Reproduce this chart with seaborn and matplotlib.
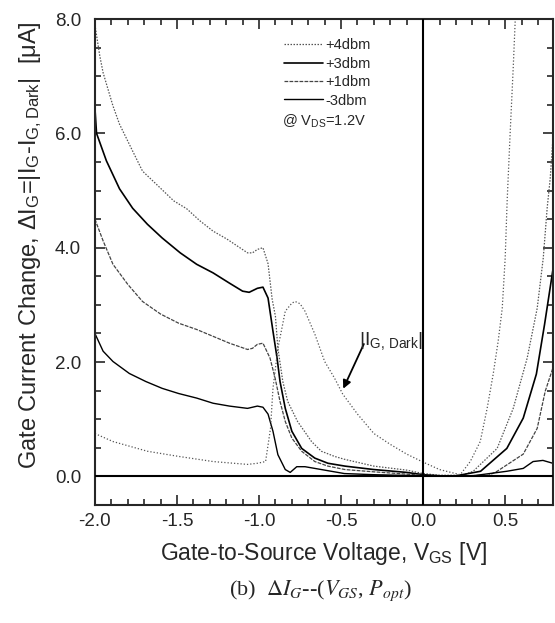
import numpy as np
import pandas as pd
import matplotlib
matplotlib.use("Agg")
import matplotlib.pyplot as plt
from matplotlib.ticker import MultipleLocator, FormatStrFormatter
import seaborn as sns

# ---------------- data ----------------
v_p4 = [-2.00, -1.97, -1.95, -1.89, -1.85, -1.77, -1.71, -1.60, -1.52, -1.44, -1.36, -1.28, -1.195,
        -1.07, -1.04, -1.01, -0.976, -0.945, -0.92, -0.90, -0.885, -0.855, -0.825, -0.765, -0.68,
        -0.62, -0.54, -0.48, -0.30, -0.10, 0.00, 0.10, 0.20, 0.25, 0.305, 0.451, 0.549, 0.634,
        0.695, 0.732, 0.756, 0.774, 0.79]
i_p4 = [7.90, 7.35, 7.06, 6.48, 6.16, 5.69, 5.34, 5.04, 4.82, 4.68, 4.47, 4.29, 4.15,
        3.91, 3.91, 3.97, 4.00, 3.72, 3.10, 2.80, 2.24, 1.66, 1.31, 0.96, 0.61,
        0.44, 0.35, 0.30, 0.18, 0.11, 0.05, 0.02, 0.02, 0.03, 0.09, 0.49, 1.19, 2.07,
        2.94, 3.82, 4.70, 5.20, 5.87]

v_p3 = [-2.00, -1.99, -1.93, -1.85, -1.77, -1.68, -1.59, -1.48, -1.38, -1.28, -1.18, -1.10, -1.06,
        -1.01, -0.976, -0.945, -0.915, -0.89, -0.872, -0.84, -0.80, -0.74, -0.66, -0.58, -0.476,
        -0.30, -0.10, 0.00, 0.10, 0.20, 0.35, 0.51, 0.61, 0.69, 0.74, 0.79]
i_p3 = [6.45, 6.00, 5.52, 5.03, 4.69, 4.41, 4.17, 3.91, 3.71, 3.56, 3.38, 3.24, 3.22,
        3.29, 3.31, 3.12, 2.54, 2.07, 1.66, 1.19, 0.79, 0.49, 0.32, 0.23, 0.18,
        0.12, 0.07, 0.03, 0.01, 0.01, 0.09, 0.49, 1.02, 1.79, 2.66, 3.60]

v_p1 = [-2.00, -1.95, -1.89, -1.80, -1.71, -1.60, -1.49, -1.38, -1.28, -1.18, -1.07, -1.04, -1.01,
        -0.976, -0.933, -0.902, -0.872, -0.84, -0.80, -0.74, -0.66, -0.58, -0.476, -0.30, -0.10,
        0.00, 0.20, 0.40, 0.451, 0.61, 0.695, 0.744, 0.79]
i_p1 = [4.50, 4.12, 3.71, 3.36, 3.06, 2.84, 2.68, 2.57, 2.45, 2.33, 2.22, 2.24, 2.31,
        2.33, 2.07, 1.72, 1.31, 0.96, 0.67, 0.44, 0.26, 0.18, 0.12, 0.08, 0.04,
        0.02, 0.01, 0.02, 0.09, 0.39, 0.84, 1.49, 1.89]

v_m3 = [-2.00, -1.95, -1.89, -1.79, -1.69, -1.59, -1.49, -1.38, -1.28, -1.18, -1.07, -1.01, -0.976,
        -0.945, -0.915, -0.885, -0.84, -0.81, -0.77, -0.72, -0.62, -0.48, -0.30, 0.00, 0.30,
        0.51, 0.61, 0.67, 0.73, 0.79]
i_m3 = [2.50, 2.19, 2.01, 1.80, 1.66, 1.54, 1.45, 1.37, 1.28, 1.23, 1.19, 1.23, 1.21,
        1.09, 0.79, 0.38, 0.12, 0.07, 0.17, 0.17, 0.12, 0.05, 0.03, 0.01, 0.01,
        0.09, 0.14, 0.26, 0.28, 0.23]

v_dark = [-2.00, -1.89, -1.68, -1.49, -1.28, -1.07, -1.01, -0.96, -0.93, -0.915, -0.885, -0.84,
          -0.80, -0.78, -0.75, -0.72, -0.66, -0.60, -0.54, -0.49, -0.40, -0.30, -0.20, -0.10,
          0.00, 0.10, 0.226, 0.287, 0.348, 0.39, 0.427, 0.457, 0.482, 0.50, 0.512, 0.53, 0.549,
          0.561]
i_dark = [0.75, 0.61, 0.44, 0.35, 0.26, 0.21, 0.23, 0.26, 0.84, 1.54, 2.24, 2.89,
          3.03, 3.06, 3.02, 2.89, 2.49, 2.01, 1.72, 1.44, 1.09, 0.75, 0.56, 0.39,
          0.25, 0.12, 0.03, 0.26, 0.61, 1.19, 1.79, 2.36, 2.94, 3.82, 4.82, 5.99, 7.15,
          7.97]

series_names = ["+4dbm", "+3dbm", "+1dbm", "-3dbm"]
x_ticks = [-2.0, -1.5, -1.0, -0.5, 0.0, 0.5]
y_ticks = [0.0, 2.0, 4.0, 6.0, 8.0]

# ---------------- style ----------------
sns.set_style("ticks")
plt.rcParams["font.family"] = ["Liberation Sans", "DejaVu Sans"]
plt.rcParams["mathtext.fontset"] = "custom"
plt.rcParams["mathtext.rm"] = "Liberation Sans"
plt.rcParams["mathtext.it"] = "Liberation Sans:italic"
plt.rcParams["mathtext.sf"] = "Liberation Sans"
plt.rcParams["axes.unicode_minus"] = False

fig = plt.figure(figsize=(5.55, 6.23), dpi=100)
ax = fig.add_axes([0.171, 0.1894, 0.825, 0.7801])

frames = []
for name, v, i in zip(series_names + ["dark"], [v_p4, v_p3, v_p1, v_m3, v_dark],
                      [i_p4, i_p3, i_p1, i_m3, i_dark]):
    frames.append(pd.DataFrame({"V": v, "I": i, "s": name}))
df = pd.concat(frames, ignore_index=True)

styles = {
    "+4dbm": dict(color="#555555", lw=0.9, ls=(0, (1.2, 1.2))),
    "+3dbm": dict(color="black", lw=1.2, ls="-"),
    "+1dbm": dict(color="#444444", lw=0.9, ls=(0, (3, 1))),
    "-3dbm": dict(color="black", lw=1.0, ls="-"),
    "dark": dict(color="#555555", lw=0.9, ls=(0, (1, 1.6))),
}
handles = []
for name in series_names + ["dark"]:
    st = styles[name]
    sns.lineplot(data=df[df["s"] == name], x="V", y="I", ax=ax, sort=False,
                 color=st["color"], linewidth=st["lw"], linestyle=st["ls"],
                 estimator=None, legend=False)
    if name != "dark":
        handles.append(ax.lines[-1])

ax.axhline(0, color="black", lw=1.5, zorder=5)
ax.axvline(0, color="black", lw=1.5, zorder=5)

ax.set_xlim(-2.0, 0.79)
ax.set_ylim(-0.5, 8.0)
ax.set_xticks(x_ticks)
ax.set_yticks(y_ticks)
ax.xaxis.set_major_formatter(FormatStrFormatter("%.1f"))
ax.yaxis.set_major_formatter(FormatStrFormatter("%.1f"))
ax.xaxis.set_minor_locator(MultipleLocator(0.1))
ax.yaxis.set_minor_locator(MultipleLocator(0.5))
ax.tick_params(which="both", direction="in", top=True, right=True, width=1.2, labelsize=13.5)
ax.tick_params(which="major", length=7)
ax.tick_params(which="minor", length=4)
ax.tick_params(axis="x", which="major", pad=6)
ax.tick_params(axis="y", which="major", pad=10)
for sp in ax.spines.values():
    sp.set_linewidth(1.5)

ax.set_xlabel(r"Gate-to-Source Voltage, $\mathrm{V_{GS}}$ [V]", fontsize=16.5, labelpad=7)
ax.set_ylabel(r"Gate Current Change, $\Delta\mathrm{I_G}$=|$\mathrm{I_G}$-$\mathrm{I_{G,Dark}}$|  [μA]",
              fontsize=17)
ax.yaxis.set_label_coords(-0.112, 0.535)

leg = ax.legend(handles, series_names, loc="upper left", bbox_to_anchor=(0.4, 0.972),
                frameon=False, fontsize=10.5, handlelength=2.7, handletextpad=0.15,
                labelspacing=0.3, borderaxespad=0)
ax.text(0.408, 0.79, r"@ $\mathrm{V_{DS}}$=1.2V", transform=ax.transAxes, fontsize=10.5,
        ha="left", va="center")

ax.annotate("", xy=(-0.494, 1.49), xytext=(-0.354, 2.36),
            arrowprops=dict(arrowstyle="-|>", color="black", lw=1.3, mutation_scale=12))
ax.text(-0.39, 2.30, r"$\mathrm{|I_{G,\,Dark}|}$", fontsize=14, ha="left", va="baseline")

fig.text(0.577, 0.045, r"(b)  $\Delta I_G$--($V_{GS}$, $P_{opt}$)", fontsize=16,
         family=["Liberation Serif", "DejaVu Serif"], math_fontfamily="stix", ha="center")

fig.savefig("out.png", dpi=100)
